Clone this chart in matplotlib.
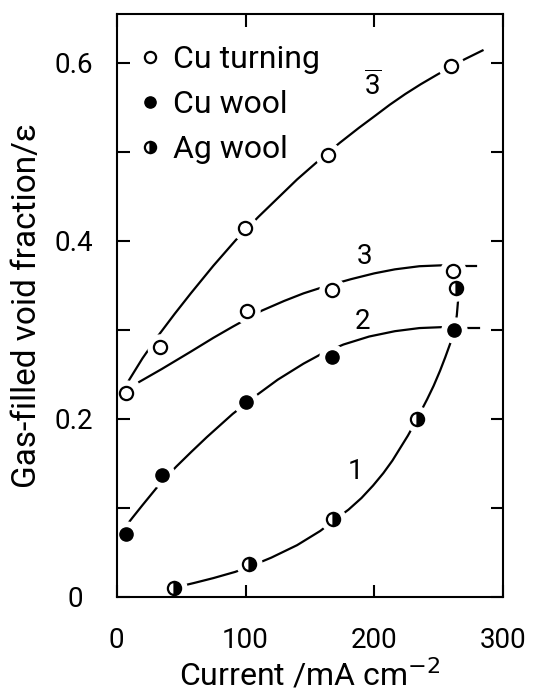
import matplotlib
matplotlib.use('Agg')
import matplotlib.pyplot as plt
from matplotlib.ticker import FixedLocator
from matplotlib.transforms import ScaledTranslation

plt.rcParams['font.family'] = ['Roboto', 'DejaVu Sans']
plt.rcParams['mathtext.fontset'] = 'dejavusans'

# measured points
cu_turn_x = [7.5, 101, 167, 261]          # curve 3
cu_turn_y = [0.229, 0.321, 0.345, 0.366]
cu_turn_bar_x = [33.5, 99.5, 164, 259.5]  # curve 3-bar
cu_turn_bar_y = [0.281, 0.414, 0.496, 0.597]
cu_wool_x = [7.5, 35.2, 100, 167, 262]    # curve 2
cu_wool_y = [0.071, 0.137, 0.219, 0.269, 0.300]
ag_wool_x = [44.2, 103, 168, 233, 263.4]  # curve 1
ag_wool_y = [0.0094, 0.037, 0.087, 0.200, 0.3475]

# fitted curves
c3bar_x = [8.7, 20, 32.5, 45, 57.5, 75, 92.5, 110, 125, 140, 155, 173, 188, 201, 212, 224, 236, 249, 260, 270, 284]
c3bar_y = [0.2415, 0.268, 0.294, 0.318, 0.341, 0.372, 0.401, 0.427, 0.448, 0.469, 0.488, 0.510, 0.527,
           0.541, 0.553, 0.565, 0.576, 0.587, 0.596, 0.604, 0.614]
c3_x = [17.5, 35, 57.5, 75, 90, 112.5, 130, 145, 160, 182, 200, 216, 235, 252, 262]
c3_y = [0.2415, 0.256, 0.2755, 0.291, 0.3035, 0.3215, 0.3325, 0.341, 0.348, 0.357, 0.3635, 0.368,
        0.3715, 0.3725, 0.372]
c3_ext_x = [270, 279]
c3_ext_y = [0.372, 0.372]
c2_x = [8, 12, 20, 31, 46, 58, 70, 90, 109, 125, 145, 159, 176, 196, 216, 235, 252, 262]
c2_y = [0.081, 0.0885, 0.103, 0.1225, 0.146, 0.163, 0.1795, 0.2055, 0.227, 0.244, 0.262, 0.273,
        0.2835, 0.2925, 0.2985, 0.302, 0.303, 0.302]
c2_ext_x = [271, 281]
c2_ext_y = [0.302, 0.302]
c1_x = [44, 60, 75, 92, 105, 120, 140, 158, 168, 180, 190, 199, 207, 214, 220, 226, 231, 236, 241,
        246, 251, 255, 259, 262, 264, 265, 264.5, 263.5]
c1_y = [0.010, 0.0155, 0.021, 0.028, 0.035, 0.044, 0.058, 0.074, 0.085, 0.098, 0.111, 0.125, 0.139,
        0.153, 0.167, 0.181, 0.194, 0.208, 0.222, 0.237, 0.254, 0.269, 0.285, 0.301, 0.316, 0.333,
        0.341, 0.3475]

curve_labels = [r'$\overline{\mathregular{3}}$', '3', '2', '1']
label_x = [199, 192, 191, 185]
label_y = [0.574, 0.382, 0.309, 0.141]

fig = plt.figure(figsize=(5.33, 6.98), dpi=100)
ax = fig.add_axes([0.219, 0.145, 0.725, 0.835])

lw = 1.6
for cx, cy in [(c3bar_x, c3bar_y), (c3_x, c3_y), (c2_x, c2_y), (c1_x, c1_y),
               (c3_ext_x, c3_ext_y), (c2_ext_x, c2_ext_y)]:
    ax.plot(cx, cy, color='black', lw=lw, zorder=1, solid_joinstyle='round')

# white halos so the curves stop short of the symbols
for mx, my in [(cu_turn_x, cu_turn_y), (cu_turn_bar_x, cu_turn_bar_y),
               (cu_wool_x, cu_wool_y), (ag_wool_x, ag_wool_y)]:
    ax.plot(mx, my, 'o', ms=18, color='white', mec='white', zorder=2)

ms = 9.5
h1, = ax.plot(cu_turn_x, cu_turn_y, 'o', ms=ms, mfc='white', mec='black', mew=1.6, zorder=3,
              label='Cu turning')
ax.plot(cu_turn_bar_x, cu_turn_bar_y, 'o', ms=ms, mfc='white', mec='black', mew=1.6, zorder=3)
h2, = ax.plot(cu_wool_x, cu_wool_y, 'o', ms=ms, color='black', zorder=3, label='Cu wool')
h3, = ax.plot(ag_wool_x, ag_wool_y, 'o', ms=ms, fillstyle='right', mfc='black', mfcalt='white',
              mec='black', mew=1.6, zorder=3, label='Ag wool')

for t, x, y in zip(curve_labels, label_x, label_y):
    ax.text(x, y, t, fontsize=20, ha='center', va='center')

ax.legend(handles=[h1, h2, h3], loc='upper left', bbox_to_anchor=(0.0, 0.99), frameon=False,
          fontsize=23, handlelength=0.5, handletextpad=0.45, labelspacing=0.5, markerscale=0.85,
          borderaxespad=0.4)

ax.set_xlim(0, 300)
ax.set_ylim(0, 0.655)
ax.xaxis.set_major_locator(FixedLocator([0, 100, 200, 300]))
ax.yaxis.set_major_locator(FixedLocator([0, 0.2, 0.4, 0.6]))
ax.yaxis.set_minor_locator(FixedLocator([0.1, 0.3, 0.5]))
ax.set_yticklabels(['0', '0.2', '0.4', '0.6'])
ax.tick_params(which='both', direction='in', length=9, width=1.5, top=True, right=True,
               labelsize=20)
ax.tick_params(axis='y', which='both', pad=17)
ax.tick_params(axis='x', pad=22)
for s in ax.spines.values():
    s.set_linewidth(1.5)

# the "0" on the y axis sits further left in the original
zero = ax.yaxis.get_major_ticks()[0].label1
zero.set_transform(zero.get_transform() + ScaledTranslation(-7 / 72, 0, fig.dpi_scale_trans))

ax.set_xlabel(r'Current /mA cm$^{-2}$', fontsize=23, labelpad=2)
ax.set_ylabel('Gas-filled void fraction/ε', fontsize=24, labelpad=8)

fig.savefig('out.png', dpi=100)
